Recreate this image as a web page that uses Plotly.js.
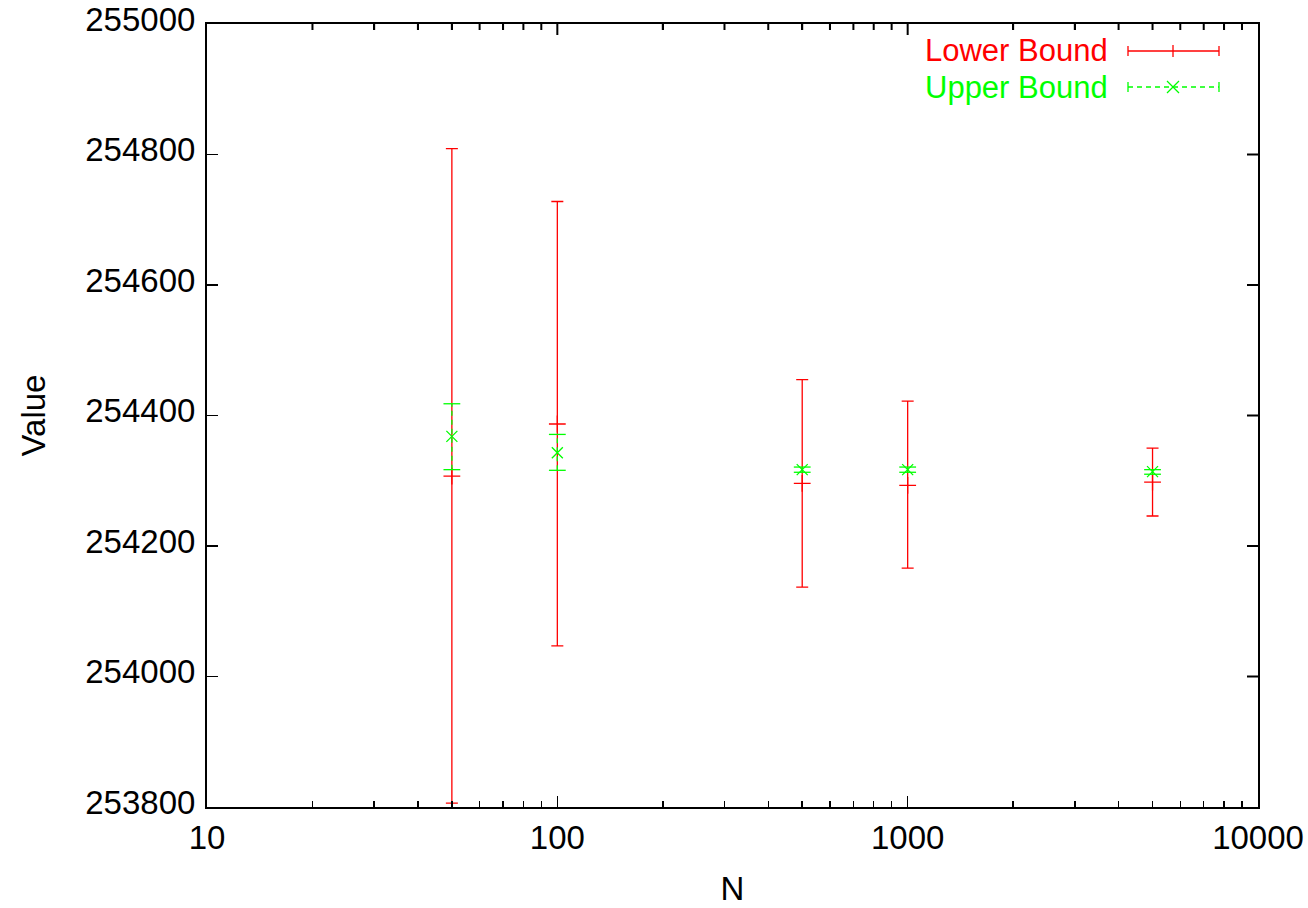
<!DOCTYPE html>
<html>
<head>
<meta charset="utf-8">
<script src="https://cdn.plot.ly/plotly-3.0.1.min.js"></script>
<style>html,body{margin:0;padding:0;background:#fff;}#chart{width:1308px;height:908px;}</style>
</head>
<body>
<div id="chart"></div>
<script>
// ---- data ----
const N = [50, 100, 500, 1000, 5000];
const lowerValue = [254307, 254387, 254296, 254293, 254298];
const lowerLow   = [253806, 254047, 254137, 254166, 254246];
const lowerHigh  = [254809, 254728, 254455, 254422, 254350];
const upperValue = [254368, 254343, 254317, 254317, 254314];
const upperLow   = [254317, 254316, 254313, 254313, 254310];
const upperHigh  = [254418, 254371, 254321, 254321, 254317];
const seriesNames = ["Lower Bound", "Upper Bound"];
const xTickVals = [10, 100, 1000, 10000];
const xTickText = ["10", "100", "1000", "10000"];
const yTickVals = [253800, 254000, 254200, 254400, 254600, 254800, 255000];

const RED = "#ff0000", GREEN = "#00ff00";
const FONT = "Liberation Sans, Arial, Helvetica, sans-serif";
const FS = 33;
const KEY_FS = 31;
const X_RANGE = [1, 4];           // log10 range of N axis
const Y_RANGE = [253800, 255000];
const PLOT_W = 1051, PLOT_H = 783; // plot-area size in px (from margins)

// minor log ticks (2..9 within each decade)
const xMinor = [];
for (let d = 0; d < xTickVals.length - 1; d++)
  for (let k = 2; k <= 9; k++) xMinor.push(k * xTickVals[d]);

// lower bound: asymmetric error bars
const lower = {
  x: N, y: lowerValue, type: "scatter", mode: "markers", name: seriesNames[0], showlegend: false,
  marker: {symbol: "cross-thin-open", size: 12, color: RED, line: {color: RED, width: 1.3}},
  error_y: {type: "data", symmetric: false,
    array: lowerHigh.map((h, i) => h - lowerValue[i]),
    arrayminus: lowerValue.map((v, i) => v - lowerLow[i]),
    color: RED, thickness: 1.3, width: 6}
};

// upper bound: dashed vertical bars built from the data arrays
const gx = [], gy = [];
N.forEach((n, i) => { gx.push(n, n, null); gy.push(upperLow[i], upperHigh[i], null); });
const upperBars = {
  x: gx, y: gy, type: "scatter", mode: "lines", showlegend: false, hoverinfo: "skip",
  line: {color: GREEN, width: 1.3, dash: "5px,4px"}
};
const upperCaps = {
  x: N.concat(N), y: upperLow.concat(upperHigh), type: "scatter", mode: "markers",
  showlegend: false, hoverinfo: "skip",
  marker: {symbol: "line-ew-open", size: 12, color: GREEN, line: {color: GREEN, width: 1.3}}
};
const upper = {
  x: N, y: upperValue, type: "scatter", mode: "markers", name: seriesNames[1], showlegend: false,
  marker: {symbol: "x-thin-open", size: 11, color: GREEN, line: {color: GREEN, width: 1.3}}
};

// custom gnuplot-style key (text left of sample)
function px(x) { return (x - 207) / PLOT_W; }
function py(y) { return (807 - y) / PLOT_H; }
const shapes = [];
const ann = [];
function keyRow(yy, color, dash, markerType, text) {
  const yp = py(yy);
  shapes.push({type: "line", xref: "paper", yref: "paper", x0: px(1128), x1: px(1219), y0: yp, y1: yp,
    line: {color: color, width: 1.3, dash: dash}});
  [1128, 1219].forEach(xx => shapes.push({type: "line", xref: "paper", yref: "paper",
    xsizemode: "pixel", ysizemode: "pixel", xanchor: px(xx), yanchor: yp,
    x0: 0, x1: 0, y0: -5, y1: 5, line: {color: color, width: 1.3}}));
  const xa = px(1173);
  if (markerType === "+") {
    shapes.push({type: "line", xref: "paper", yref: "paper", xsizemode: "pixel", ysizemode: "pixel",
      xanchor: xa, yanchor: yp, x0: 0, x1: 0, y0: -6, y1: 6, line: {color: color, width: 1.3}});
  } else {
    shapes.push({type: "line", xref: "paper", yref: "paper", xsizemode: "pixel", ysizemode: "pixel",
      xanchor: xa, yanchor: yp, x0: -6, x1: 6, y0: -6, y1: 6, line: {color: color, width: 1.3}});
    shapes.push({type: "line", xref: "paper", yref: "paper", xsizemode: "pixel", ysizemode: "pixel",
      xanchor: xa, yanchor: yp, x0: -6, x1: 6, y0: 6, y1: -6, line: {color: color, width: 1.3}});
  }
  ann.push({xref: "paper", yref: "paper", x: px(1109), y: yp, xanchor: "right", yanchor: "middle",
    text: text, showarrow: false, valign: "middle", borderpad: 0,
    font: {family: FONT, size: KEY_FS, color: color}});
}
keyRow(51, RED, "solid", "+", seriesNames[0]);
keyRow(87, GREEN, "5px,4px", "x", seriesNames[1]);

// mirrored ticks on the top and right borders (gnuplot draws ticks on all four sides)
const xFrac = v => (Math.log10(v) - X_RANGE[0]) / (X_RANGE[1] - X_RANGE[0]);
const yFrac = v => (v - Y_RANGE[0]) / (Y_RANGE[1] - Y_RANGE[0]);
xMinor.forEach(v => shapes.push({type: "line", xref: "paper", yref: "paper", layer: "above",
  x0: xFrac(v), x1: xFrac(v), y0: 1, y1: 1 - 6 / PLOT_H, line: {color: "#000000", width: 2}}));
xTickVals.slice(1, -1).forEach(v => shapes.push({type: "line", xref: "paper", yref: "paper", layer: "above",
  x0: xFrac(v), x1: xFrac(v), y0: 1, y1: 1 - 11 / PLOT_H, line: {color: "#000000", width: 2}}));
yTickVals.slice(1, -1).forEach(v => shapes.push({type: "line", xref: "paper", yref: "paper", layer: "above",
  x0: 1, x1: 1 - 11 / PLOT_W, y0: yFrac(v), y1: yFrac(v), line: {color: "#000000", width: 2}}));

const axisCommon = {
  showline: true, linecolor: "#000", linewidth: 2, mirror: "allticks",
  ticks: "inside", ticklen: 11, tickwidth: 1.5, tickcolor: "#000",
  showgrid: false, zeroline: false,
  tickfont: {family: FONT, size: FS, color: "#000"}
};

const layout = {
  width: 1308, height: 908,
  margin: {l: 207, r: 50, t: 24, b: 101},
  paper_bgcolor: "#fff", plot_bgcolor: "#fff",
  showlegend: false,
  xaxis: Object.assign({}, axisCommon, {
    type: "log", range: X_RANGE, tickmode: "array", tickvals: xTickVals, ticktext: xTickText,
    minor: {tickmode: "array", tickvals: xMinor, ticks: "inside", ticklen: 6, tickwidth: 1.5,
            tickcolor: "#000", showgrid: false},
    title: {text: "N", font: {family: FONT, size: FS, color: "#000"}, standoff: 22}
  }),
  yaxis: Object.assign({}, axisCommon, {
    range: Y_RANGE, tickmode: "array", tickvals: yTickVals,
    ticktext: yTickVals.map(v => String(v)),
    ticklabelstandoff: 3, ticklabelshift: -5,
    title: {text: "Value", font: {family: FONT, size: FS, color: "#000"}, standoff: 30}
  }),
  shapes: shapes,
  annotations: ann
};

Plotly.newPlot("chart", [lower, upperBars, upperCaps, upper], layout,
  {displayModeBar: false, staticPlot: true});
</script>
</body>
</html>
